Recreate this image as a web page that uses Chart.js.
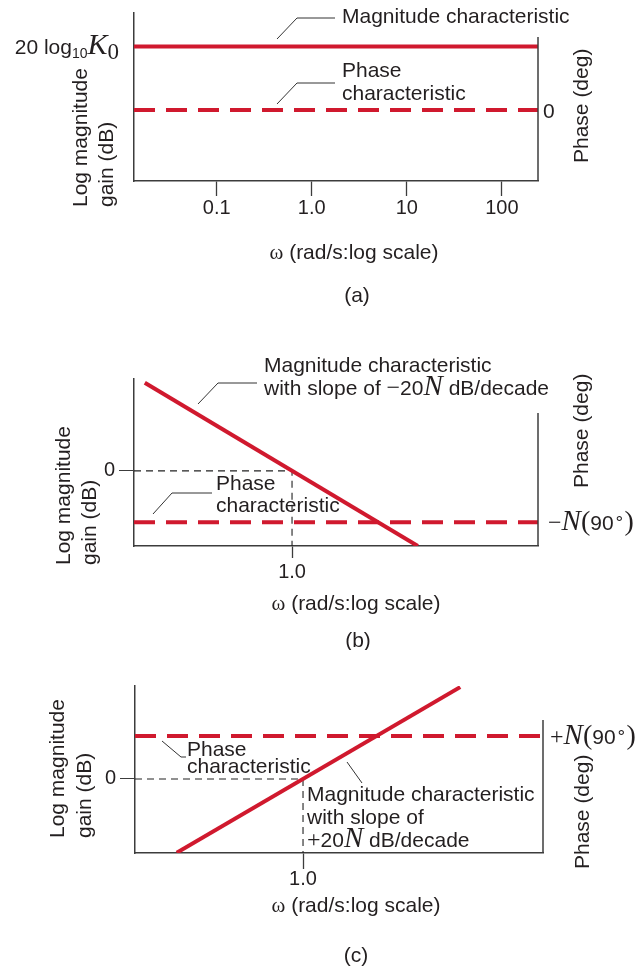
<!DOCTYPE html>
<html lang="en">
<head>
<meta charset="UTF-8">
<title>Bode plots: constant gain, poles and zeros at the origin</title>
<script src="https://cdn.jsdelivr.net/npm/chart.js"></script>
<style>
  html, body { margin: 0; padding: 0; background: #fff; }
  #wrap { position: relative; width: 637px; height: 970px; }
  canvas { position: absolute; left: 0; }
</style>
</head>
<body>
<div id="wrap">
  <canvas id="chartA" width="637" height="320" style="top:0px"></canvas>
  <canvas id="chartB" width="637" height="330" style="top:320px"></canvas>
  <canvas id="chartC" width="637" height="320" style="top:650px"></canvas>
</div>

<script>
// (a) constant gain K0
const omegaRangeA = [0.0135, 240];
const magRangeA = [0, 25];
const phaseRangeA = [-60, 82];
const magOmegaA = [0.0135, 240];
const magA = [20, 20];
const phaseA = [0, 0];
const xTicksA = [0.1, 1, 10, 100];
const xTickLabelsA = ['0.1', '1.0', '10', '100'];

// (b) N poles at the origin, -20N dB/decade
const omegaRangeB = [0.0232, 350];
const magRangeB = [-26, 31.8];
const phaseRangeB = [-120, 90];
const magOmegaB = [0.03, 20];
const magB = [30.5, -26.0];
const phaseB = [-90, -90];
const refOmegaB = [0.0232, 1, 1];
const refMagB = [0, 0, -26];
const xTicksB = [1];
const xTickLabelsB = ['1.0'];

// (c) N zeros at the origin, +20N dB/decade
const omegaRangeC = [0.0171, 334];
const magRangeC = [-26.7, 33.5];
const phaseRangeC = [-15, 135];
const magOmegaC = [0.047, 45];
const magC = [-26.6, 33.1];
const phaseC = [90, 90];
const refOmegaC = [0.0171, 1, 1];
const refMagC = [0, 0, -26.7];
const xTicksC = [1];
const xTickLabelsC = ['1.0'];

const yTicksZero = [0];
const yTickLabelsZero = ['0'];

const RED = '#d0192e';
const INK = '#231f20';
const AXIS = '#3c3c3c';
const SANS = '"Liberation Sans", Arial, Helvetica, sans-serif';
const SERIF = '"Liberation Serif", "Times New Roman", serif';

function sans(px) { return px + 'px ' + SANS; }
function serif(px) { return px + 'px ' + SERIF; }
function ital(px) { return 'italic ' + px + 'px ' + SERIF; }

function pts(xs, ys) {
  return xs.map((x, i) => ({ x: x, y: ys[i] }));
}

// drawing helpers for the labels and leader lines
function text(ctx, s, x, y, font, align) {
  ctx.font = font || sans(21);
  ctx.fillStyle = INK;
  ctx.textAlign = align || 'left';
  ctx.textBaseline = 'alphabetic';
  ctx.fillText(s, x, y);
}

function rich(ctx, parts, x, y, align) {
  let w = 0;
  parts.forEach(p => { ctx.font = p[1]; w += ctx.measureText(p[0]).width; });
  let cx = x;
  if (align === 'right') cx = x - w;
  if (align === 'center') cx = x - w / 2;
  ctx.fillStyle = INK;
  ctx.textAlign = 'left';
  ctx.textBaseline = 'alphabetic';
  parts.forEach(p => {
    ctx.font = p[1];
    ctx.fillText(p[0], cx, y + (p[2] || 0));
    cx += ctx.measureText(p[0]).width;
  });
}

function upText(ctx, s, cx, bottom) {
  ctx.save();
  ctx.translate(cx, bottom);
  ctx.rotate(-Math.PI / 2);
  ctx.font = sans(21);
  ctx.fillStyle = INK;
  ctx.textAlign = 'left';
  ctx.textBaseline = 'middle';
  ctx.fillText(s, 0, 0);
  ctx.restore();
}

function leader(ctx, p) {
  ctx.save();
  ctx.strokeStyle = '#333';
  ctx.lineWidth = 1;
  ctx.beginPath();
  ctx.moveTo(p[0][0], p[0][1]);
  for (let i = 1; i < p.length; i++) ctx.lineTo(p[i][0], p[i][1]);
  ctx.stroke();
  ctx.restore();
}

function omegaTitle(ctx, x, y) {
  rich(ctx, [['\u03c9', serif(21)], [' (rad/s:log scale)', sans(21)]], x, y, 'center');
}

function degLabel(sign) {
  return [[sign, serif(24)], ['N', ital(29)], ['(', serif(28)], ['90', sans(21)],
          ['\u2218', serif(17), -7], [')', serif(28)]];
}

function bodeChart(id, p) {
  const datasets = [
    {
      data: pts(p.magOmega, p.mag),
      yAxisID: 'y',
      borderColor: RED,
      borderWidth: 4,
      borderCapStyle: 'butt',
      pointRadius: 0,
      showLine: true
    },
    {
      data: pts(p.omegaRange, p.phase),
      yAxisID: 'y1',
      borderColor: RED,
      borderWidth: 4,
      borderDash: [21, 11],
      borderCapStyle: 'butt',
      pointRadius: 0,
      showLine: true
    }
  ];
  if (p.refOmega) {
    datasets.push({
      data: pts(p.refOmega, p.refMag),
      yAxisID: 'y',
      borderColor: '#222',
      borderWidth: 1.1,
      borderDash: [7, 5],
      pointRadius: 0,
      showLine: true
    });
  }

  return new Chart(document.getElementById(id), {
    type: 'scatter',
    data: { datasets: datasets },
    options: {
      responsive: false,
      animation: false,
      events: [],
      layout: { padding: { top: p.top, left: 0, right: 0, bottom: 0 } },
      plugins: { legend: { display: false }, tooltip: { enabled: false } },
      scales: {
        x: {
          type: 'logarithmic',
          min: p.omegaRange[0],
          max: p.omegaRange[1],
          afterBuildTicks: s => { s.ticks = p.xTicks.map(v => ({ value: v })); },
          afterFit: s => { s.height = p.xAxisH; },
          ticks: {
            autoSkip: false,
            maxRotation: 0,
            padding: p.xPad,
            color: INK,
            font: { family: SANS, size: 20 },
            callback: v => p.xTickLabels[p.xTicks.indexOf(v)]
          },
          grid: {
            drawOnChartArea: false,
            drawTicks: true,
            tickLength: p.tickLen,
            tickColor: AXIS,
            tickWidth: 1.3
          },
          border: { display: true, color: AXIS, width: 1.5 }
        },
        y: {
          position: 'left',
          min: p.magRange[0],
          max: p.magRange[1],
          afterBuildTicks: s => { s.ticks = p.yTicks.map(v => ({ value: v })); },
          afterFit: s => { s.width = p.left; },
          ticks: {
            display: p.yTicks.length > 0,
            padding: 4,
            color: INK,
            font: { family: SANS, size: 20 },
            callback: v => p.yTickLabels[p.yTicks.indexOf(v)]
          },
          grid: {
            drawOnChartArea: false,
            drawTicks: p.yTicks.length > 0,
            tickLength: 15,
            tickColor: AXIS,
            tickWidth: 1
          },
          border: { display: true, color: AXIS, width: 1.5 }
        },
        y1: {
          position: 'right',
          min: p.phaseRange[0],
          max: p.phaseRange[1],
          afterFit: s => { s.width = p.right; },
          ticks: { display: false },
          grid: { display: false, drawTicks: false },
          border: { display: false }
        }
      }
    },
    plugins: [{
      id: 'notes',
      afterDraw: chart => {
        const ctx = chart.ctx;
        const area = chart.chartArea;
        // shorter phase axis on the right
        ctx.save();
        ctx.strokeStyle = AXIS;
        ctx.lineWidth = 1.5;
        ctx.beginPath();
        ctx.moveTo(area.right, p.rightAxisTop - p.offset);
        ctx.lineTo(area.right, area.bottom);
        ctx.stroke();
        ctx.restore();

        ctx.save();
        ctx.translate(0, -p.offset);
        p.notes(ctx, chart);
        ctx.restore();
      }
    }]
  });
}

bodeChart('chartA', {
  offset: 0, top: 13, left: 134, right: 99, xAxisH: 139, tickLen: 15, xPad: 0,
  rightAxisTop: 37,
  omegaRange: omegaRangeA, magRange: magRangeA, phaseRange: phaseRangeA,
  magOmega: magOmegaA, mag: magA, phase: phaseA,
  xTicks: xTicksA, xTickLabels: xTickLabelsA, yTicks: [], yTickLabels: [],
  notes: (ctx, chart) => {
    const yMag = chart.scales.y.getPixelForValue(magA[0]);
    const yPh = chart.scales.y1.getPixelForValue(phaseA[0]);
    leader(ctx, [[277, 39], [297, 18], [335, 18]]);
    text(ctx, 'Magnitude characteristic', 342, 23);
    leader(ctx, [[277, 104], [297, 83], [335, 83]]);
    text(ctx, 'Phase', 342, 77);
    text(ctx, 'characteristic', 342, 100);
    rich(ctx, [['20 log', sans(21)], ['10', sans(14), 4], ['K', ital(30)], ['0', serif(23), 5]], 119, yMag + 7, 'right');
    text(ctx, '0', 543, yPh + 8, sans(21));
    upText(ctx, 'Phase (deg)', 582.5, 163);
    upText(ctx, 'Log magnitude', 80.8, 207);
    upText(ctx, 'gain (dB)', 107.5, 207);
    omegaTitle(ctx, 354, 259);
    text(ctx, '(a)', 357, 302, sans(21), 'center');
  }
});

bodeChart('chartB', {
  offset: 320, top: 59, left: 134, right: 99, xAxisH: 104, tickLen: 12, xPad: 2,
  rightAxisTop: 413,
  omegaRange: omegaRangeB, magRange: magRangeB, phaseRange: phaseRangeB,
  magOmega: magOmegaB, mag: magB, phase: phaseB,
  refOmega: refOmegaB, refMag: refMagB,
  xTicks: xTicksB, xTickLabels: xTickLabelsB, yTicks: yTicksZero, yTickLabels: yTickLabelsZero,
  notes: (ctx, chart) => {
    const yPh = chart.scales.y1.getPixelForValue(phaseB[0]) + 320;
    leader(ctx, [[198, 404], [218, 383], [257, 383]]);
    text(ctx, 'Magnitude characteristic', 264, 372);
    rich(ctx, [['with slope of ', sans(21)], ['\u2212', serif(24)], ['20', sans(21)], ['N', ital(29)], [' dB/decade', sans(21)]], 264, 395);
    leader(ctx, [[153, 514], [172, 493], [212, 493]]);
    text(ctx, 'Phase', 216, 490);
    text(ctx, 'characteristic', 216, 512);
    rich(ctx, degLabel('\u2212'), 548, yPh + 8);
    upText(ctx, 'Phase (deg)', 582.5, 488);
    upText(ctx, 'Log magnitude', 64.5, 565);
    upText(ctx, 'gain (dB)', 90.5, 565);
    omegaTitle(ctx, 356, 610);
    text(ctx, '(b)', 358, 647, sans(21), 'center');
  }
});

bodeChart('chartC', {
  offset: 650, top: 36, left: 135, right: 94, xAxisH: 117, tickLen: 16, xPad: -2,
  rightAxisTop: 720,
  omegaRange: omegaRangeC, magRange: magRangeC, phaseRange: phaseRangeC,
  magOmega: magOmegaC, mag: magC, phase: phaseC,
  refOmega: refOmegaC, refMag: refMagC,
  xTicks: xTicksC, xTickLabels: xTickLabelsC, yTicks: yTicksZero, yTickLabels: yTickLabelsZero,
  notes: (ctx, chart) => {
    const yPh = chart.scales.y1.getPixelForValue(phaseC[0]) + 650;
    leader(ctx, [[162, 741], [181, 757], [186, 757]]);
    text(ctx, 'Phase', 187, 756);
    text(ctx, 'characteristic', 187, 773);
    leader(ctx, [[347, 762], [362, 783]]);
    text(ctx, 'Magnitude characteristic', 307, 801);
    text(ctx, 'with slope of', 307, 824);
    rich(ctx, [['+', serif(24)], ['20', sans(21)], ['N', ital(29)], [' dB/decade', sans(21)]], 307, 847);
    rich(ctx, degLabel('+'), 550, yPh + 8);
    upText(ctx, 'Phase (deg)', 583, 869);
    upText(ctx, 'Log magnitude', 58, 838);
    upText(ctx, 'gain (dB)', 85, 838);
    omegaTitle(ctx, 356, 912);
    text(ctx, '(c)', 356, 962, sans(21), 'center');
  }
});
</script>
</body>
</html>
